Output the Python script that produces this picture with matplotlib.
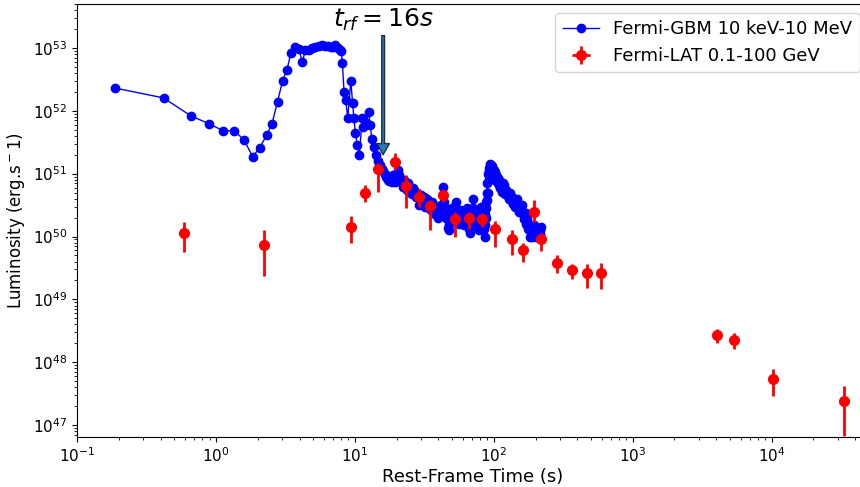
import numpy as np
import matplotlib
matplotlib.use('Agg')
import matplotlib.pyplot as plt

# Fermi-GBM 10 keV-10 MeV light curve (rest frame), read off in three pieces
# prompt emission up to ~15 s
gbm_t_early = [0.187, 0.42, 0.66, 0.895, 1.13, 1.36, 1.6, 1.84, 2.07, 2.32, 2.53,
               2.78, 3.02, 3.24, 3.47, 3.7, 3.95, 4.2, 4.4, 4.7, 4.95, 5.2, 5.5,
               5.8, 6.1, 6.4, 6.7, 7.0, 7.26, 7.55, 7.8, 8.0, 8.15, 8.37, 8.6, 8.9,
               9.36, 9.64, 9.85, 10.1, 10.4, 10.8, 11.3, 11.5, 12.1, 12.6, 12.9,
               13.3, 13.7, 14.1]
gbm_L_early = [2.3e52, 1.6e52, 8.3e51, 6.2e51, 4.8e51, 4.8e51, 3.4e51, 1.86e51,
               2.6e51, 4.1e51, 6.1e51, 1.4e52, 3.0e52, 4.4e52, 8.2e52, 1.05e53,
               9.6e52, 5.9e52, 9.3e52, 9.3e52, 9.8e52, 1.02e53, 1.08e53, 1.1e53,
               1.07e53, 1.06e53, 1.03e53, 1.05e53, 1.12e53, 1.0e53, 9.2e52, 8.8e52,
               5.7e52, 1.97e52, 1.5e52, 7.6e51, 3.0e52, 1.32e52, 7.6e51, 4.5e51,
               2.85e51, 2.0e51, 7.6e51, 5.6e51, 6.4e51, 9.4e51, 5.9e51, 3.5e51,
               2.7e51, 2.0e51]
# decay, 15 - 90 s
gbm_t_mid = [14.7, 15.1, 15.6, 16.0, 16.5, 16.9, 17.2, 17.6, 17.9, 18.4, 18.9, 19.3,
             19.6, 20.0, 20.5, 20.9, 21.3, 21.8, 22.3, 22.6, 23.0, 23.4, 23.8, 24.3,
             24.9, 25.3, 25.8, 26.2, 26.7, 27.2, 27.7, 28.2, 28.8, 29.3, 29.8, 30.4,
             30.9, 31.5, 32.0, 32.6, 33.2, 33.8, 34.4, 35.0, 35.6, 36.2, 36.9, 37.7,
             38.6, 39.3, 40.0, 40.7, 41.5, 42.2, 43.0, 43.6, 44.3, 45.0, 45.6, 46.2,
             46.8, 47.4, 48.0, 48.7, 49.5, 50.2, 51.0, 51.6, 52.2, 52.8, 53.5, 54.2,
             55.0, 55.7, 56.5, 57.2, 58.0, 58.8, 59.5, 60.2, 61.0, 61.8, 62.5, 63.2,
             64.0, 64.7, 65.5, 66.2, 67.0, 67.8, 68.5, 69.5, 70.5, 71.2, 72.0, 72.8,
             73.5, 74.5, 75.6, 76.5, 77.5, 78.2, 79.0, 80.0, 81.0, 82.0, 83.0, 83.8,
             84.5, 85.3, 86.0, 86.5, 87.0, 87.6, 88.0, 88.5, 89.0, 89.5]
gbm_L_mid = [1.56e51, 1.35e51, 1.2e51, 1.1e51, 1.0e51, 9.0e50, 8.0e50, 7.6e50,
             8.9e50, 7.4e50, 9.5e50, 8.5e50, 7.5e50, 9.0e50, 1.15e51, 9.5e50, 8.0e50,
             7.0e50, 6.2e50, 8.0e50, 7.5e50, 6.5e50, 5.5e50, 7.0e50, 6.0e50, 5.0e50,
             4.8e50, 6.0e50, 5.5e50, 4.6e50, 4.3e50, 5.0e50, 3.2e50, 4.0e50, 4.6e50,
             3.4e50, 3.8e50, 4.3e50, 3.0e50, 3.5e50, 4.0e50, 3.0e50, 3.4e50, 2.8e50,
             2.6e50, 3.5e50, 3.0e50, 2.3e50, 2.6e50, 3.0e50, 2.0e50, 2.5e50, 3.2e50,
             2.6e50, 6.2e50, 3.5e50, 2.8e50, 2.3e50, 2.0e50, 2.6e50, 1.35e50, 1.6e50,
             1.26e50, 2.0e50, 1.8e50, 2.8e50, 2.4e50, 1.9e50, 3.0e50, 2.2e50, 3.6e50,
             2.5e50, 2.2e50, 1.8e50, 1.6e50, 2.0e50, 2.6e50, 2.2e50, 2.0e50, 1.7e50,
             1.5e50, 2.0e50, 2.3e50, 1.9e50, 2.8e50, 2.1e50, 1.7e50, 1.3e50, 1.15e50,
             1.8e50, 1.5e50, 2.2e50, 4.0e50, 2.8e50, 2.4e50, 1.6e50, 1.9e50, 2.3e50,
             1.8e50, 1.4e50, 2.6e50, 2.0e50, 1.26e50, 1.7e50, 2.9e50, 2.4e50, 2.1e50,
             1.6e50, 1.3e50, 1.8e50, 9.9e49, 1.5e50, 2.3e50, 2.0e50, 3.5e50, 2.8e50,
             4.9e50, 3.8e50]
# second pulse, 90 - 220 s
gbm_t_late = [90.0, 90.5, 91.0, 91.8, 92.5, 93.2, 94.0, 95.0, 96.0, 97.0, 98.0, 99.0,
              100.0, 101.0, 102.0, 103.0, 104.0, 105.5, 107.0, 108.5, 110.0, 111.5,
              113.0, 114.5, 116.0, 117.5, 119.0, 120.5, 122.0, 124.0, 126.0, 128.0,
              131.0, 133.0, 135.0, 137.5, 140.0, 143.0, 146.0, 148.0, 150.0, 153.0,
              156.0, 159.0, 163.0, 165.0, 168.0, 170.0, 172.0, 175.0, 177.0, 180.0,
              182.0, 185.0, 188.0, 190.0, 193.0, 195.0, 197.0, 200.0, 203.0, 206.0,
              208.0, 211.0, 214.0, 217.0, 220.0]
gbm_L_late = [7.0e50, 5.0e50, 1.0e51, 8.0e50, 1.25e51, 1.1e51, 1.4e51, 1.2e51,
              1.38e51, 1.1e51, 1.3e51, 1.0e51, 1.15e51, 9.0e50, 1.05e51, 8.0e50,
              9.5e50, 7.5e50, 8.5e50, 6.5e50, 7.8e50, 6.0e50, 6.8e50, 5.2e50, 6.2e50,
              7.0e50, 6.5e50, 4.8e50, 5.5e50, 4.5e50, 5.0e50, 4.0e50, 4.9e50, 3.8e50,
              4.2e50, 3.3e50, 3.8e50, 3.0e50, 3.4e50, 4.0e50, 3.0e50, 2.5e50, 2.8e50,
              3.2e50, 2.3e50, 1.9e50, 1.9e50, 2.4e50, 1.6e50, 1.9e50, 1.3e50, 1.5e50,
              1.0e50, 1.4e50, 1.2e50, 1.0e50, 1.35e50, 1.5e50, 1.26e50, 1.0e50,
              1.15e50, 1.3e50, 1.05e50, 1.2e50, 1.26e50, 1.1e50, 1.4e50]

gbm_t = gbm_t_early + gbm_t_mid + gbm_t_late
gbm_L = gbm_L_early + gbm_L_mid + gbm_L_late

# Fermi-LAT 0.1-100 GeV
lat_t = [0.59, 2.21, 9.35, 11.9, 14.6, 19.4, 23.3, 29.0, 34.7, 43.2, 52.5, 66.0,
         82.4, 103.0, 136.0, 163.0, 194.0, 218.0, 284.0, 366.0, 467.0, 589.0,
         4018.0, 5370.0, 10280.0, 33100.0]
lat_L = [1.13e50, 7.3e49, 1.4e50, 5.0e50, 1.18e51, 1.52e51, 6.4e50, 4.3e50, 3.1e50,
         4.5e50, 1.9e50, 1.95e50, 1.9e50, 1.3e50, 9.3e49, 6.1e49, 2.5e50, 9.1e49,
         3.8e49, 2.95e49, 2.6e49, 2.6e49, 2.7e48, 2.3e48, 5.4e47, 2.4e47]
lat_hi = [1.7e50, 1.26e50, 2.1e50, 6.6e50, 1.45e51, 2.1e51, 9.5e50, 5.6e50, 3.8e50,
          5.5e50, 2.5e50, 2.5e50, 2.4e50, 1.75e50, 1.26e50, 7.9e49, 3.8e50, 1.15e50,
          5.0e49, 3.7e49, 3.7e49, 3.8e49, 3.35e48, 2.95e48, 7.8e47, 4.2e47]
lat_lo = [5.6e49, 2.4e49, 7.9e49, 3.5e50, 5.1e50, 1.15e51, 2.8e50, 3.0e50, 1.26e50,
          3.6e50, 9.9e49, 1.3e50, 1.4e50, 6.8e49, 5.0e49, 3.9e49, 1.7e50, 5.9e49,
          2.6e49, 2.1e49, 1.5e49, 1.45e49, 2.05e48, 1.62e48, 2.9e47, 6.7e46]

lat_t = np.array(lat_t)
lat_L = np.array(lat_L)
yerr = [lat_L - np.array(lat_lo), np.array(lat_hi) - lat_L]
xerr = lat_t * 0.03

plt.rcParams['font.size'] = 11

fig = plt.figure(figsize=(8.6, 4.87), dpi=100)
ax = fig.add_axes([0.0895, 0.1027, 0.9205, 0.8893])

ax.plot(gbm_t, gbm_L, 'o-', color='blue', ms=6, lw=1,
        label='Fermi-GBM 10 keV-10 MeV')
ax.errorbar(lat_t, lat_L, yerr=yerr, xerr=xerr, fmt='o', color='red', ms=7,
            elinewidth=2, capsize=0, label='Fermi-LAT 0.1-100 GeV', zorder=3)

ax.set_xscale('log')
ax.set_yscale('log')
ax.set_xlim(0.1, 5e4)
ax.set_ylim(6.5e46, 5e53)

ax.annotate('$t_{rf}=16s$', xy=(16, 2.0e51), xytext=(16, 2.8e53),
            ha='center', va='center', fontsize=18,
            arrowprops=dict(facecolor='#2b7bb9', edgecolor='#1b2f40', lw=1,
                            width=2, headwidth=9, headlength=8, shrink=0.0))

ax.set_xlabel('Rest-Frame Time (s)', fontsize=13, labelpad=2)
ax.set_ylabel('Luminosity (erg.s$^-$1)', fontsize=12)
ax.legend(loc='upper right', fontsize=13)

plt.savefig('out.png', dpi=100)
